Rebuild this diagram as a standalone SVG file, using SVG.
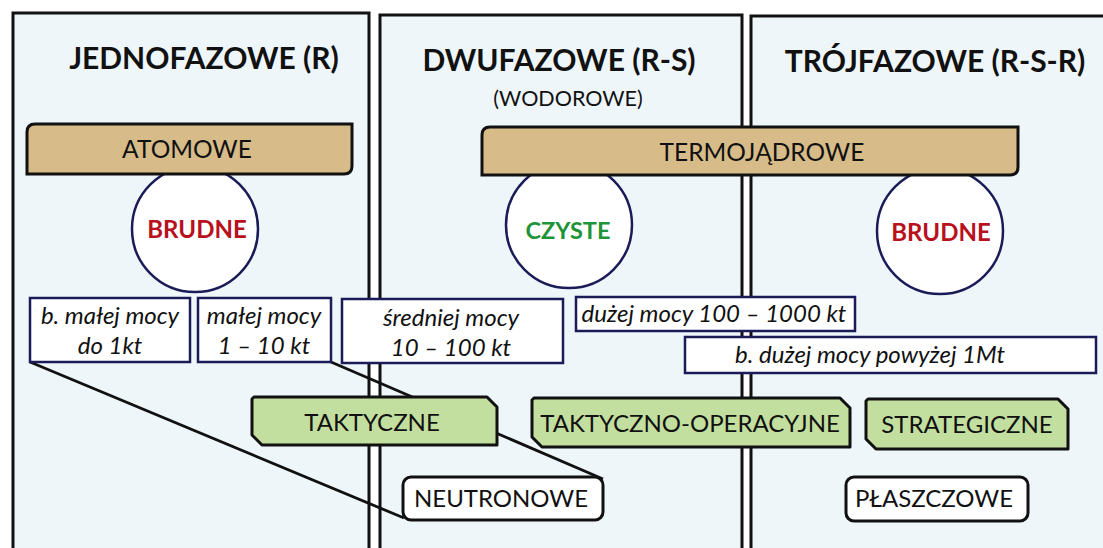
<svg xmlns="http://www.w3.org/2000/svg" width="1103" height="548" viewBox="0 0 1103 548">
  <style>
    .panel { fill: #eef6fa; stroke: #111; stroke-width: 3; }
    .title { font-family: Lato, "Liberation Sans", sans-serif; font-weight: bold; font-size: 30px; fill: #111; text-anchor: middle; }
    .sub { font-family: Lato, "Liberation Sans", sans-serif; font-size: 21.5px; fill: #111; text-anchor: middle; }
    .tan { fill: #d7bc89; stroke: #111; stroke-width: 3; }
    .green { fill: #c3df9f; stroke: #111; stroke-width: 3; stroke-linejoin: round; }
    .plain { fill: #fff; stroke: #111; stroke-width: 3; }
    .power { fill: #fff; stroke: #1b1b58; stroke-width: 2.5; }
    .ring { fill: #fff; stroke: #1b1b58; stroke-width: 2.5; }
    .label { font-family: Lato, "Liberation Sans", sans-serif; font-size: 24px; fill: #111; text-anchor: middle; }
    .tag { font-family: Lato, "Liberation Sans", sans-serif; font-size: 24.5px; fill: #111; text-anchor: middle; }
    .it { font-family: Lato, "Liberation Sans", sans-serif; font-style: italic; font-size: 24px; fill: #111; text-anchor: middle; }
    .dirty { font-family: Lato, "Liberation Sans", sans-serif; font-weight: bold; font-size: 24px; fill: #b8101c; text-anchor: middle; }
    .clean { font-family: Lato, "Liberation Sans", sans-serif; font-weight: bold; font-size: 23.5px; fill: #1e9438; text-anchor: middle; }
    .link { stroke: #111; stroke-width: 2.8; fill: none; }
  </style>

  <rect width="1103" height="548" fill="#fff"/>

  <!-- three phase columns -->
  <g id="col-r">
    <rect class="panel" x="13" y="13" width="356" height="560"/>
    <text class="title" x="204" y="69">JEDNOFAZOWE (R)</text>
  </g>
  <g id="col-rs">
    <rect class="panel" x="380" y="15" width="362" height="560"/>
    <text class="title" x="559" y="71">DWUFAZOWE (R-S)</text>
    <text class="sub" x="568" y="106">(WODOROWE)</text>
  </g>
  <g id="col-rsr">
    <rect class="panel" x="751" y="16" width="362" height="560"/>
    <text class="title" x="935" y="72">TRÓJFAZOWE (R-S-R)</text>
  </g>

  <!-- connectors -->
  <g id="connectors">
    <line class="link" x1="30" y1="362" x2="404" y2="518"/>
    <line class="link" x1="331" y1="362" x2="603" y2="479"/>
  </g>

  <!-- cleanliness circles -->
  <g id="circle-brudne-1">
    <circle class="ring" cx="195" cy="229" r="63"/>
    <text class="dirty" x="197" y="238">BRUDNE</text>
  </g>
  <g id="circle-czyste">
    <circle class="ring" cx="569" cy="225" r="63"/>
    <text class="clean" x="568" y="239">CZYSTE</text>
  </g>
  <g id="circle-brudne-2">
    <circle class="ring" cx="940" cy="231" r="63"/>
    <text class="dirty" x="941" y="241">BRUDNE</text>
  </g>

  <!-- weapon families -->
  <g id="atomowe">
    <path class="tan" d="M35,124 H352 V166 Q352,174 344,174 H27 V132 Q27,124 35,124 Z"/>
    <text class="tag" x="187" y="158">ATOMOWE</text>
  </g>
  <g id="termojadrowe">
    <path class="tan" d="M490,127 H1018 V167 Q1018,175 1010,175 H482 V135 Q482,127 490,127 Z"/>
    <text class="tag" x="762" y="161">TERMOJĄDROWE</text>
  </g>

  <!-- yield ranges -->
  <g id="yield-bmala">
    <rect class="power" x="30" y="298" width="160" height="64"/>
    <text class="it" x="110" y="324">b. małej mocy</text>
    <text class="it" x="110" y="354">do 1kt</text>
  </g>
  <g id="yield-mala">
    <rect class="power" x="198" y="298" width="133" height="64"/>
    <text class="it" x="264" y="324">małej mocy</text>
    <text class="it" x="264" y="354">1 – 10 kt</text>
  </g>
  <g id="yield-srednia">
    <rect class="power" x="342" y="299" width="221" height="64"/>
    <text class="it" x="451" y="326">średniej mocy</text>
    <text class="it" x="451" y="356">10 – 100 kt</text>
  </g>
  <g id="yield-duza">
    <rect class="power" x="576" y="297" width="279" height="34"/>
    <text class="it" x="714" y="322">dużej mocy 100 – 1000 kt</text>
  </g>
  <g id="yield-bduza">
    <rect class="power" x="685" y="337" width="411" height="36"/>
    <text class="it" x="870" y="363">b. dużej mocy powyżej 1Mt</text>
  </g>

  <!-- purpose -->
  <g id="taktyczne">
    <path class="green" d="M254,397 H487 L497,407 V445 H262 L252,435 V399 Z"/>
    <text class="label" x="372" y="431">TAKTYCZNE</text>
  </g>
  <g id="taktyczno-operacyjne">
    <path class="green" d="M534,398 H840 L850,408 V447 H542 L532,437 V400 Z"/>
    <text class="label" x="690" y="432">TAKTYCZNO-OPERACYJNE</text>
  </g>
  <g id="strategiczne">
    <path class="green" d="M868,399 H1058 L1068,409 V449 H876 L866,439 V401 Z"/>
    <text class="label" x="967" y="433">STRATEGICZNE</text>
  </g>

  <!-- special designs -->
  <g id="neutronowe">
    <rect class="plain" x="403" y="477" width="200" height="43" rx="8"/>
    <text class="label" x="501" y="507">NEUTRONOWE</text>
  </g>
  <g id="plaszczowe">
    <rect class="plain" x="846" y="477" width="182" height="44" rx="8"/>
    <text class="label" x="934" y="507">PŁASZCZOWE</text>
  </g>
</svg>
